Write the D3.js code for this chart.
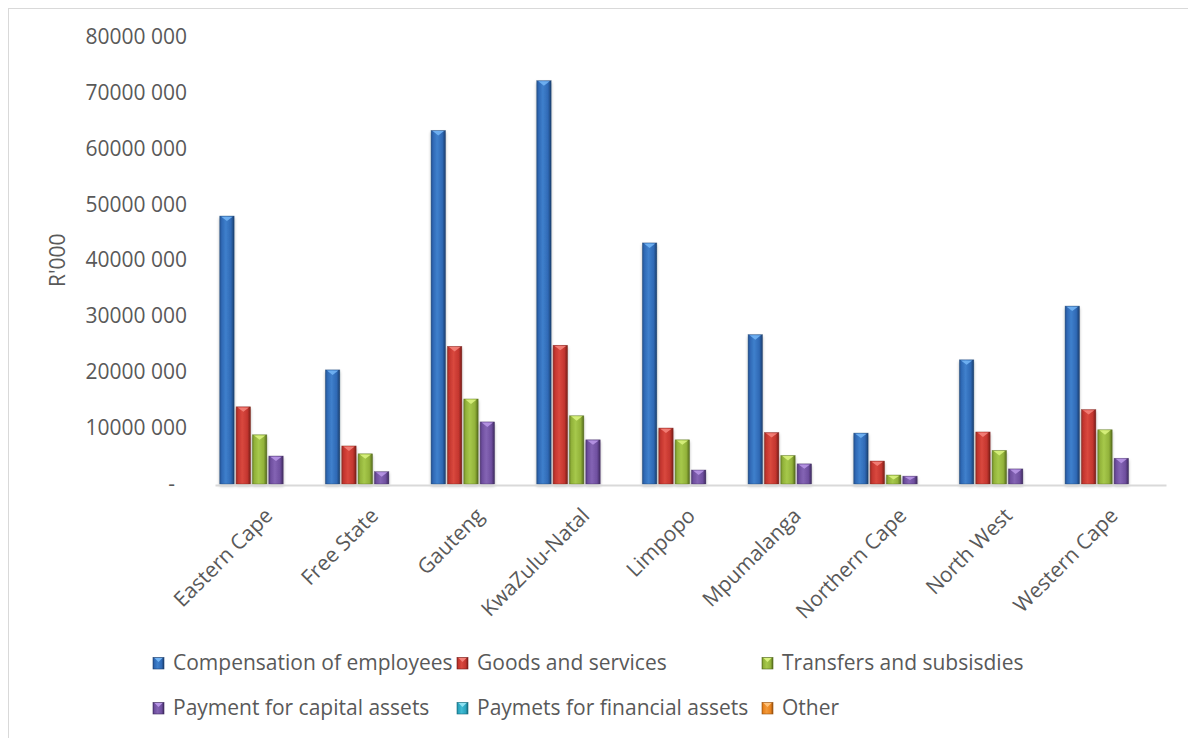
<!DOCTYPE html>
<html>
<head>
<meta charset="utf-8">
<script src="https://cdn.jsdelivr.net/npm/d3@7"></script>
<style>
  html, body { margin: 0; padding: 0; background: #ffffff; }
  svg { display: block; }
  text { font-family: "Open Sans", "Noto Sans", sans-serif; fill: #595959; }
</style>
</head>
<body>
<svg id="chart" width="1188" height="738"></svg>
<script>
// Provincial expenditure by economic classification (R'000)
const categories = ["Eastern Cape", "Free State", "Gauteng", "KwaZulu-Natal", "Limpopo",
  "Mpumalanga", "Northern Cape", "North West", "Western Cape"];

const seriesNames = ["Compensation of employees", "Goods and services", "Transfers and subsisdies",
  "Payment for capital assets", "Paymets for financial assets", "Other"];

const compensation    = [47900000, 20400000, 63200000, 72100000, 43100000, 26700000, 9100000, 22200000, 31800000];
const goodsServices   = [13800000, 6800000, 24600000, 24800000, 10000000, 9200000, 4100000, 9300000, 13300000];
const transfers       = [8800000, 5400000, 15200000, 12200000, 7900000, 5100000, 1600000, 6000000, 9700000];
const capitalAssets   = [5000000, 2200000, 11100000, 7900000, 2500000, 3600000, 1400000, 2700000, 4600000];
const financialAssets = [0, 0, 0, 0, 0, 0, 0, 0, 0];
const otherPayments   = [0, 0, 0, 0, 0, 0, 0, 0, 0];

const yTicks = [0, 10000000, 20000000, 30000000, 40000000, 50000000, 60000000, 70000000, 80000000];

// Bevelled bar shading per series: edge, body, highlight, right edge, top cap
const palette = [
  { edge: "#24508f", body: "#2f69b5", light: "#3f80cc", dark: "#1b3f6e", cap: "#72b4f4" },
  { edge: "#9a2a24", body: "#c4362f", light: "#d9483e", dark: "#781d18", cap: "#f4827a" },
  { edge: "#6c8824", body: "#92b23a", light: "#a6c84b", dark: "#536a1b", cap: "#d9f27e" },
  { edge: "#52387a", body: "#6f4f9f", light: "#8464b4", dark: "#3e2a5e", cap: "#b896e6" },
  { edge: "#1f8aa0", body: "#2ba5bf", light: "#40bcd4", dark: "#176a7b", cap: "#8ee2f2" },
  { edge: "#c46a14", body: "#e8831f", light: "#f39a3a", dark: "#96500f", cap: "#ffc27a" }
];

const seriesValues = [compensation, goodsServices, transfers, capitalAssets, financialAssets, otherPayments];
const rows = categories.map((c, i) => ({
  category: c,
  values: seriesNames.map((s, j) => ({ key: j, name: s, value: seriesValues[j][i] }))
}));

const svg = d3.select("#chart");
const W = 1188, H = 738;
const plot = { left: 215, right: 1166, top: 36.5, bottom: 484 };

// Chart frame
svg.append("rect")
  .attr("x", 8.5).attr("y", 8.5)
  .attr("width", W + 40).attr("height", H + 40)
  .attr("fill", "#ffffff").attr("stroke", "#d9d9d9").attr("stroke-width", 1);

const defs = svg.append("defs");
palette.forEach((p, i) => {
  const g = defs.append("linearGradient").attr("id", "barGrad" + i)
    .attr("x1", "0%").attr("x2", "100%").attr("y1", "0%").attr("y2", "0%");
  g.append("stop").attr("offset", "0%").attr("stop-color", p.edge);
  g.append("stop").attr("offset", "14%").attr("stop-color", p.body);
  g.append("stop").attr("offset", "42%").attr("stop-color", p.light);
  g.append("stop").attr("offset", "78%").attr("stop-color", p.body);
  g.append("stop").attr("offset", "100%").attr("stop-color", p.dark);
});
const shadow = defs.append("filter").attr("id", "barShadow")
  .attr("x", "-50%").attr("y", "-10%").attr("width", "200%").attr("height", "130%");
shadow.append("feDropShadow").attr("dx", 0).attr("dy", 2).attr("stdDeviation", 1.8)
  .attr("flood-color", "#000").attr("flood-opacity", 0.3);

const x0 = d3.scaleBand().domain(categories).range([plot.left, plot.right])
  .paddingInner(0.09).paddingOuter(0.045);
const x1 = d3.scaleBand().domain(d3.range(seriesNames.length)).range([0, x0.bandwidth()])
  .paddingInner(0.12);
const y = d3.scaleLinear().domain([0, 80000000]).range([plot.bottom, plot.top]);

// Tick labels like "80000 000", zero shown as a dash
const fmt = d => {
  if (d === 0) return "-";
  const k = Math.floor(d / 1000), r = d % 1000;
  return k + " " + String(r).padStart(3, "0");
};

const yAxis = svg.append("g").attr("transform", `translate(${plot.left},0)`)
  .call(d3.axisLeft(y).tickValues(yTicks).tickFormat(fmt).tickSize(0).tickPadding(28));
yAxis.select(".domain").remove();
yAxis.selectAll("text").style("font-size", "21px").style("font-family", null).attr("fill", "#595959");
yAxis.selectAll(".tick").filter(d => d === 0).select("text").attr("dx", -12);

// Bars
const groups = svg.append("g").selectAll("g").data(rows).join("g")
  .attr("transform", d => `translate(${x0(d.category)},0)`);

const bars = groups.selectAll("g.bar").data(d => d.values.filter(v => v.value > 0)).join("g")
  .attr("class", "bar");

bars.append("rect")
  .attr("x", d => x1(d.key))
  .attr("y", d => y(d.value))
  .attr("width", x1.bandwidth())
  .attr("height", d => y(0) - y(d.value))
  .attr("fill", d => `url(#barGrad${d.key})`)
  .attr("stroke", d => palette[d.key].dark)
  .attr("stroke-opacity", 0.6)
  .attr("stroke-width", 0.6)
  .attr("filter", "url(#barShadow)");

// Light bevel cap at the top of each bar
bars.append("path")
  .attr("d", d => {
    const bx = x1(d.key), bw = x1.bandwidth(), top = y(d.value);
    const h = Math.min(5, (y(0) - top) / 2);
    return `M${bx + 1.5},${top + 0.6}L${bx + bw - 1.5},${top + 0.6}L${bx + bw / 2},${top + h}Z`;
  })
  .attr("fill", d => palette[d.key].cap)
  .attr("opacity", 0.9);

// Category axis
const xAxis = svg.append("g").attr("transform", `translate(0,${plot.bottom + 1})`)
  .call(d3.axisBottom(x0).tickSize(0).tickFormat(""));
xAxis.select(".domain").attr("stroke", "#d9d9d9").attr("stroke-width", 2.2);

svg.append("g").selectAll("text").data(categories).join("text")
  .attr("transform", d => `translate(${x0(d) + x0.bandwidth() / 2 + 6},${plot.bottom + 33}) rotate(-45)`)
  .attr("text-anchor", "end")
  .style("font-size", "21px")
  .text(d => d);

// Value axis title
svg.append("text")
  .attr("transform", `translate(${65},${(plot.top + plot.bottom) / 2}) rotate(-90)`)
  .attr("text-anchor", "middle")
  .style("font-size", "21px")
  .text("R'000");

// Legend, two rows of three
const legendCols = [153, 457, 762];
const legendRows = [670, 715];
const legend = svg.append("g").selectAll("g").data(seriesNames).join("g")
  .attr("transform", (d, i) => `translate(${legendCols[i % 3]},${legendRows[Math.floor(i / 3)]})`);
legend.append("rect")
  .attr("x", 0).attr("y", -12.5).attr("width", 11).attr("height", 11.5)
  .attr("fill", (d, i) => `url(#barGrad${i})`)
  .attr("stroke", (d, i) => palette[i].dark).attr("stroke-width", 0.6);
legend.append("path")
  .attr("d", "M1.5,-12L9.5,-12L5.5,-8Z")
  .attr("fill", (d, i) => palette[i].cap);
legend.append("text")
  .attr("x", 20).attr("y", 0)
  .style("font-size", "21px")
  .text(d => d);
</script>
</body>
</html>
